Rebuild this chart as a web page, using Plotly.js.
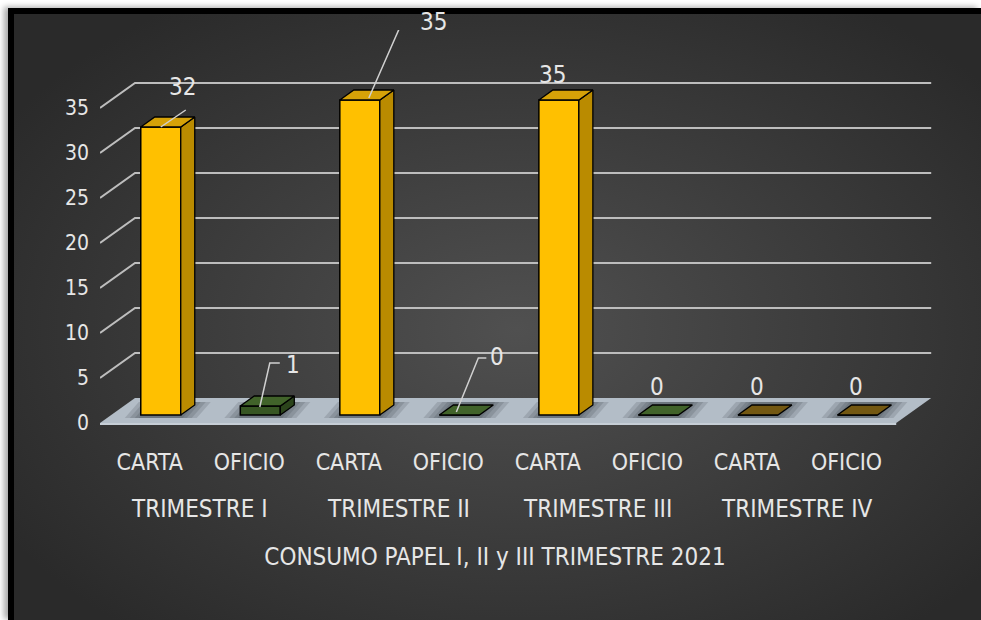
<!DOCTYPE html>
<html>
<head>
<meta charset="utf-8">
<script src="https://cdn.plot.ly/plotly-3.0.1.min.js"></script>
<style>
  html, body { margin: 0; padding: 0; background: #ffffff; width: 981px; height: 620px; overflow: hidden; }
  #frame {
    position: absolute; left: 8px; top: 8px; right: 0; bottom: 0;
    border-left: 6px solid #000; border-top: 6px solid #000;
    background: radial-gradient(ellipse 62% 65% at 52% 52%, #505050 0%, #3d3d3d 50%, #2a2a2a 100%);
    box-shadow: -4px -1px 6px rgba(0,0,0,0.35);
  }
  #chart { position: absolute; left: 0; top: 0; width: 981px; height: 620px; }
</style>
</head>
<body>
<div id="frame"></div>
<div id="chart"></div>
<script>
// ---------- data ----------
const quarters = ['TRIMESTRE I', 'TRIMESTRE II', 'TRIMESTRE III', 'TRIMESTRE IV'];
const paperTypes = ['CARTA', 'OFICIO'];
const cartaValues = [32, 35, 35, 0];
const oficioValues = [1, 0, 0, 0];
const yTickVals = [0, 5, 10, 15, 20, 25, 30, 35];
const chartTitle = 'CONSUMO PAPEL I, II y III TRIMESTRE 2021';

// ---------- flatten ----------
const idx = [], vals = [], typeLabels = [], quarterOf = [], typeOf = [];
quarters.forEach((q, qi) => {
  [cartaValues[qi], oficioValues[qi]].forEach((v, ti) => {
    idx.push(idx.length); vals.push(v); typeLabels.push(paperTypes[ti]);
    quarterOf.push(qi); typeOf.push(ti);
  });
});

// ---------- scales (layout) ----------
const ML = 100, MR = 41, MT = 30, MB = 190, W = 981, H = 620;
const X0 = -0.5, X1 = 7.94;
const PXX = (W - ML - MR) / (X1 - X0);
const PXY = 9;
const Y0 = -7 / PXY, Y1 = Y0 + (H - MT - MB) / PXY;
function pt(i, v, dx, dy) { return [i + dx / PXX, v - dy / PXY]; }
function path(points, close) {
  return points.map((p, k) => (k ? 'L' : 'M') + p[0].toFixed(4) + ',' + p[1].toFixed(4)).join(' ') + (close ? ' Z' : '');
}

// ---------- styles ----------
function palette(k) {
  if (quarterOf[k] === 3) return { front: '#7F6000', top: '#735812', side: '#5a4505' };
  if (typeOf[k] === 0) return { front: '#FFC000', top: '#D6A208', side: '#BA8B00' };
  return { front: '#375623', top: '#41632A', side: '#2B441B' };
}
const txt = '#E6E6E6';
const FONT = 'Liberation Sans Narrow, DejaVu Sans Condensed, Open Sans, sans-serif';
const BAR_L = -9, BAR_R = 31, LIFT = -8, DDX = 14, DDY = -10;
const WALL_DX = 35, WALL_DY = -25;

// ---------- shapes: walls, floor, shadows ----------
const shapes = [];
yTickVals.filter(v => v > 0).forEach(v => {
  shapes.push({
    type: 'path', xref: 'x', yref: 'y', layer: 'below',
    path: path([pt(X0, v, 0, 0), pt(X0, v, WALL_DX, WALL_DY), pt(idx.length - 0.5, v, WALL_DX, WALL_DY)]),
    line: { color: '#BDBDBD', width: 2 }
  });
});
shapes.push({
  type: 'path', xref: 'x', yref: 'y', layer: 'below',
  path: path([pt(X0, 0, 0, 0), pt(idx.length - 0.5, 0, 0, 0), pt(idx.length - 0.5, 0, WALL_DX, WALL_DY), pt(X0, 0, WALL_DX, WALL_DY)], true),
  fillcolor: '#B3BDC7', line: { width: 0 }
});
shapes.push({
  type: 'path', xref: 'x', yref: 'y', layer: 'below',
  path: path([pt(X0, 0, 0, 1), pt(idx.length - 0.5, 0, 0, 1)]),
  line: { color: '#C6CED6', width: 2 }
});
idx.forEach(i => {
  [16, 11, 6, 2].forEach(g => {
    shapes.push({
      type: 'path', xref: 'x', yref: 'y', layer: 'below',
      path: path([pt(i, 0, BAR_L - g, LIFT + 3), pt(i, 0, BAR_R + g, LIFT + 3),
                  pt(i, 0, BAR_R + DDX + g, LIFT + DDY - 3), pt(i, 0, BAR_L + DDX - g, LIFT + DDY - 3)], true),
      fillcolor: 'rgba(45,50,55,0.16)', line: { width: 0 }
    });
  });
});

// ---------- traces ----------
const traces = [];
traces.push({
  type: 'bar', x: idx, y: vals, base: -LIFT / PXY,
  width: (BAR_R - BAR_L) / PXX, offset: BAR_L / PXX,
  marker: { color: idx.map(k => palette(k).front), line: { color: '#000', width: 1.5 } },
  hoverinfo: 'skip', showlegend: false
});
idx.forEach(k => {
  const v = vals[k];
  const c = palette(k);
  if (v > 0) {
    const side = [pt(k, 0, BAR_R, LIFT), pt(k, 0, BAR_R + DDX, LIFT + DDY), pt(k, v, BAR_R + DDX, LIFT + DDY), pt(k, v, BAR_R, LIFT), pt(k, 0, BAR_R, LIFT)];
    traces.push({ type: 'scatter', mode: 'lines', x: side.map(p => p[0]), y: side.map(p => p[1]), fill: 'toself',
      fillcolor: c.side, line: { color: '#000', width: 1.3 }, hoverinfo: 'skip', showlegend: false });
  }
  const top = [pt(k, v, BAR_L, LIFT), pt(k, v, BAR_R, LIFT), pt(k, v, BAR_R + DDX, LIFT + DDY), pt(k, v, BAR_L + DDX, LIFT + DDY), pt(k, v, BAR_L, LIFT)];
  traces.push({ type: 'scatter', mode: 'lines', x: top.map(p => p[0]), y: top.map(p => p[1]), fill: 'toself',
    fillcolor: c.top, line: { color: '#000', width: 1.3 }, hoverinfo: 'skip', showlegend: false });
});

// data label placement (px offsets from the front-plane point) and leader lines
const labelOffsets = [[33, -48], [44, -49], [85, -86], [49, -66], [5, -33], [10, -36], [10, -36], [10, -36]];
const leaders = {
  0: [[11, -8], [36, -25]],
  1: [[10.5, -7], [20.5, -51], [30.5, -51]],
  2: [[20, -10], [52, -83], [61, -83]],
  3: [[8, -11], [30, -65], [38, -65]]
};
Object.keys(leaders).forEach(key => {
  const k = +key;
  const pts = leaders[k].map(o => pt(k, vals[k], o[0], o[1]));
  traces.push({ type: 'scatter', mode: 'lines', x: pts.map(p => p[0]), y: pts.map(p => p[1]),
    line: { color: '#D0D0D0', width: 1.5 }, hoverinfo: 'skip', showlegend: false });
});

const annotations = idx.map(k => ({
  x: k, y: vals[k], xref: 'x', yref: 'y', text: String(vals[k]), showarrow: false,
  xshift: labelOffsets[k][0], yshift: -labelOffsets[k][1],
  font: { family: FONT, size: 24, color: txt }
}));
quarters.forEach((q, qi) => {
  annotations.push({
    x: 2 * qi + 0.5, y: -0.1975, xref: 'x', yref: 'paper', yanchor: 'middle', text: q, showarrow: false,
    font: { family: FONT, size: 24, color: txt }
  });
});

const layout = {
  width: W, height: H,
  margin: { l: ML, r: MR, t: MT, b: MB },
  paper_bgcolor: 'rgba(0,0,0,0)', plot_bgcolor: 'rgba(0,0,0,0)',
  showlegend: false, hovermode: false, barmode: 'overlay',
  font: { family: FONT, color: txt },
  title: {
    text: chartTitle, xref: 'container', yref: 'container', x: 0.5046, y: 0.1016,
    xanchor: 'center', yanchor: 'middle', font: { family: FONT, size: 24, color: txt }
  },
  xaxis: {
    range: [X0, X1], tickmode: 'array', tickvals: idx, ticktext: typeLabels,
    showgrid: false, zeroline: false, showline: false, ticks: '', ticklabelstandoff: 16,
    tickfont: { family: FONT, size: 23, color: txt },
    fixedrange: true
  },
  yaxis: {
    range: [Y0, Y1], tickmode: 'array', tickvals: yTickVals,
    showgrid: false, zeroline: false, showline: false, ticks: '', ticklabelstandoff: 10,
    tickfont: { family: FONT, size: 21, color: txt }, fixedrange: true
  },
  shapes: shapes,
  annotations: annotations
};

Plotly.newPlot('chart', traces, layout, { displayModeBar: false, staticPlot: true });
</script>
</body>
</html>
